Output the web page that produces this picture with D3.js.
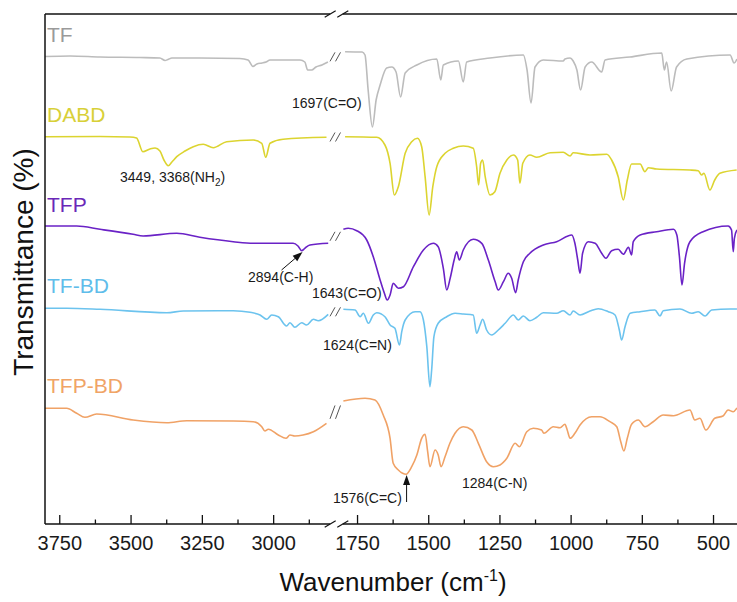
<!DOCTYPE html>
<html><head><meta charset="utf-8">
<script src="https://cdn.jsdelivr.net/npm/d3@7"></script>
<style>body{margin:0;background:#fff}svg{display:block}text{font-family:"Liberation Sans",Arial,sans-serif}</style>
</head><body><svg id="c" width="737" height="602"></svg>
<script>
// ---------- data (wavenumber cm-1, offset transmittance a.u.) ----------
const seriesNames = ["TF", "DABD", "TFP", "TF-BD", "TFP-BD"];
const majorTicksHigh = [3750, 3500, 3250, 3000];
const minorTicksHigh = [3625, 3375, 3125, 2875];
const majorTicksLow = [1750, 1500, 1250, 1000, 750, 500];
const minorTicksLow = [1625, 1375, 1125, 875, 625];

const TF = [[3800,46.75],[3712,46.8],[3607,46.7],[3467,46.65],[3397,46.6],[3379,46.35],[3369,46.45],[3355,46.6],[3257,46.6],[3117,46.55],[3088,46.4],[3071,45.75],[3057,46.0],[3039,46.1],[3025,46.2],[3011,46.4],[2906,46.4],[2889,46.2],[2879,45.4],[2865,45.4],[2850,45.7],[2829,45.9],[2808,46.2],
[1792,47.23],[1732,47.2],[1722,46.9],[1711,43.4],[1696,39.7],[1683,42.4],[1669,43.9],[1646,45.6],[1628,45.7],[1613,45.2],[1597,42.7],[1581,45.1],[1540,45.9],[1470,46.5],[1456,44.4],[1447,45.9],[1394,46.3],[1377,44.2],[1365,46.2],[1283,46.6],[1166,46.9],[1153,45.4],[1139,42.1],[1125,45.7],[1096,46.4],[1026,46.3],[1020,46.5],[1002,46.6],[991,46.3],[978,45.4],[965,43.4],[949,45.7],[926,46.2],[891,45.2],[879,46.4],[792,46.7],[680,47.1],[671,45.4],[663,46.2],[647,43.3],[628,45.7],[592,46.5],[440,46.9],[426,46.1],[416,46.5]];

const DABD = [[3800,38.73],[3607,38.75],[3502,38.7],[3479,38.6],[3457,37.23],[3432,37.5],[3414,37.6],[3397,37.3],[3383,36.4],[3368,35.83],[3355,36.2],[3338,36.73],[3309,37.3],[3280,37.73],[3245,37.97],[3210,37.63],[3163,38.23],[3070,38.4],[3040,38.07],[3026,36.67],[3011,38.07],[2965,38.47],[2813,38.67],
[1792,38.73],[1681,38.67],[1652,37.9],[1634,36.07],[1619,32.9],[1605,33.73],[1581,37.07],[1558,38.23],[1538,38.57],[1523,37.73],[1511,34.73],[1497,30.9],[1484,33.73],[1470,35.73],[1441,37.07],[1412,37.57],[1377,37.8],[1342,37.57],[1330,35.73],[1323,33.9],[1316,36.07],[1309,36.4],[1300,34.73],[1283,32.9],[1266,33.23],[1248,35.07],[1224,36.4],[1201,36.9],[1186,36.4],[1178,34.07],[1168,36.07],[1143,36.9],[1119,36.67],[1072,37.13],[1026,37.17],[1002,36.8],[991,37.13],[932,36.9],[873,36.97],[856,36.4],[833,34.73],[815,32.4],[801,34.4],[786,36.0],[756,36.0],[739,35.23],[727,35.63],[698,35.5],[581,35.4],[552,35.33],[540,34.9],[532,35.07],[511,33.4],[494,34.4],[476,35.07],[417,35.4]];

const TFP = [[3800,29.8],[3689,29.8],[3607,29.47],[3491,28.97],[3456,28.8],[3338,29.07],[3257,28.67],[3140,28.23],[3070,28.07],[2930,28.07],[2913,27.8],[2900,27.33],[2889,27.57],[2871,27.9],[2807,28.07],
[1798,29.47],[1781,29.57],[1751,29.33],[1716,28.4],[1693,26.73],[1669,24.4],[1654,23.07],[1644,22.4],[1634,22.9],[1623,24.07],[1605,23.57],[1587,23.73],[1552,25.73],[1517,27.4],[1482,28.07],[1465,27.73],[1447,25.57],[1435,23.4],[1423,24.57],[1409,26.4],[1400,27.23],[1391,26.4],[1377,27.4],[1342,28.47],[1312,28.07],[1289,26.4],[1265,24.23],[1254,23.4],[1236,24.23],[1219,25.07],[1207,24.57],[1193,23.13],[1184,24.4],[1166,26.23],[1143,27.07],[1096,27.9],[1049,28.23],[996,28.9],[985,28.07],[975,26.4],[967,25.07],[958,27.07],[938,28.23],[914,28.07],[891,27.07],[876,26.57],[856,27.33],[833,27.47],[815,26.97],[797,27.67],[786,26.9],[780,28.23],[756,28.9],[698,29.23],[639,29.47],[627,28.9],[618,26.73],[609,23.9],[600,26.07],[581,28.23],[535,29.23],[447,29.8],[435,29.4],[429,27.23],[425,28.57],[416,29.4]];

const TF_BD = [[3800,21.57],[3724,21.57],[3607,21.47],[3373,21.13],[3315,21.3],[3140,21.33],[3081,21.17],[3046,20.9],[3023,20.47],[3005,20.9],[2982,20.73],[2953,19.8],[2941,20.13],[2924,19.67],[2900,20.13],[2883,19.9],[2859,20.47],[2842,20.33],[2807,20.97],
[1798,21.47],[1757,21.4],[1739,20.73],[1728,21.07],[1710,20.07],[1693,20.9],[1681,21.13],[1652,20.73],[1634,19.9],[1617,19.57],[1601,17.9],[1593,19.23],[1581,20.4],[1546,21.23],[1529,21.23],[1517,20.4],[1505,17.73],[1494,13.73],[1488,15.4],[1480,18.73],[1465,20.07],[1435,20.73],[1406,21.07],[1377,21.0],[1342,20.9],[1330,19.07],[1318,19.9],[1309,20.47],[1295,19.4],[1277,18.9],[1254,19.4],[1230,20.07],[1201,20.9],[1184,20.4],[1166,20.8],[1143,20.33],[1119,20.67],[1096,21.13],[1049,21.07],[1026,21.33],[1002,20.9],[991,21.3],[967,20.9],[932,21.3],[903,21.53],[868,21.23],[844,20.9],[829,19.4],[821,18.4],[809,19.73],[791,21.07],[756,21.23],[704,21.4],[686,20.8],[675,21.33],[616,21.5],[575,21.07],[552,21.23],[528,20.8],[505,21.4],[440,21.5],[416,21.5]];

const TFP_BD = [[3800,11.57],[3724,11.57],[3689,11.07],[3660,10.67],[3619,11.0],[3491,10.4],[3373,10.13],[3303,10.33],[3140,10.3],[3070,10.23],[3040,9.73],[3029,9.3],[3017,9.47],[2982,8.9],[2955,8.57],[2941,8.9],[2924,8.8],[2895,8.9],[2859,9.23],[2813,10.07],
[1798,12.3],[1722,12.57],[1687,12.4],[1658,10.9],[1634,8.57],[1623,6.07],[1605,5.4],[1590,5.07],[1578,4.97],[1558,5.73],[1540,6.9],[1523,8.57],[1511,8.97],[1502,7.23],[1494,5.73],[1476,7.4],[1465,6.9],[1455,5.73],[1441,6.73],[1424,8.07],[1406,9.07],[1377,9.73],[1347,9.4],[1324,8.07],[1295,6.23],[1271,5.73],[1248,5.9],[1224,6.57],[1195,8.07],[1180,7.73],[1154,9.23],[1131,9.57],[1102,9.4],[1094,9.07],[1061,9.73],[1037,9.63],[1020,9.97],[1012,9.4],[1002,8.57],[985,9.07],[967,9.9],[926,10.73],[897,10.73],[862,10.23],[838,9.73],[824,8.23],[813,7.3],[801,8.57],[786,9.97],[762,10.4],[739,9.73],[710,10.23],[675,10.9],[639,10.83],[581,11.4],[564,10.4],[546,10.57],[525,9.4],[494,10.57],[465,10.8],[447,11.4],[429,11.23],[416,11.6]];

const seriesData = [TF, DABD, TFP, TF_BD, TFP_BD];
const lineColors = ["#bcbcbc", "#dcd430", "#6a22c6", "#6cc3ee", "#f0a266"];
const labelColors = ["#9a9a9a", "#d8d038", "#6a28b8", "#5fbdea", "#f0a466"];

const annotations = [
  {t: "1697(C=O)", x: 292, y: 108},
  {t: "2894(C-H)", x: 248, y: 282},
  {t: "1643(C=O)", x: 312, y: 298},
  {t: "1624(C=N)", x: 323, y: 350},
  {t: "1576(C=C)", x: 333, y: 503},
  {t: "1284(C-N)", x: 462, y: 488}
];

// ---------- layout ----------
const svg = d3.select("#c");
const plotLeft = 45, plotTop = 14, plotBottom = 524, plotRight = 737;
const xHigh = d3.scaleLinear().domain([3800, 2800]).range([45, 330.2]);
const xLow = d3.scaleLinear().domain([1800, 400]).range([342.8, 741.5]);
const y = d3.scaleLinear().domain([0, 51]).range([plotBottom, plotTop]);
const xAny = w => (w > 2300 ? xHigh(w) : xLow(w));

// curves
const line = d3.line().x(d => xAny(d[0])).y(d => y(d[1])).curve(d3.curveMonotoneX);
seriesData.forEach((data, i) => {
  const hi = data.filter(d => d[0] > 2300);
  const lo = data.filter(d => d[0] < 2300);
  [hi, lo].forEach(seg => {
    svg.append("path").attr("d", line(seg)).attr("fill", "none")
      .attr("stroke", lineColors[i]).attr("stroke-width", 1.6).attr("stroke-linejoin", "round");
  });
  // break marks "//" on the curve
  const yA = y(hi[hi.length - 1][1]), yB = y(lo[0][1]);
  const cy = (yA + yB) / 2;
  const h = Math.max(9, Math.min(14, Math.abs(yA - yB) * 0.6));
  [332.5, 338].forEach(cx => {
    svg.append("line").attr("x1", cx - 2.5).attr("y1", cy + h / 2).attr("x2", cx + 2.5).attr("y2", cy - h / 2)
      .attr("stroke", "#555").attr("stroke-width", 1);
  });
  // series label
  const yLabel = [42, 122, 212, 293, 393][i];
  svg.append("text").attr("x", 47).attr("y", yLabel).attr("font-size", 21)
    .attr("fill", labelColors[i]).text(seriesNames[i]);
});

// frame
const frame = svg.append("g").attr("stroke", "#111").attr("stroke-width", 1.5).attr("fill", "none");
frame.append("line").attr("x1", plotLeft).attr("y1", plotTop).attr("x2", plotLeft).attr("y2", plotBottom);
[plotTop, plotBottom].forEach(yy => {
  frame.append("line").attr("x1", plotLeft).attr("y1", yy).attr("x2", xHigh.range()[1]).attr("y2", yy);
  frame.append("line").attr("x1", xLow.range()[0]).attr("y1", yy).attr("x2", plotRight).attr("y2", yy);
  [xHigh.range()[1], xLow.range()[0]].forEach(cx => {
    frame.append("line").attr("x1", cx - 5.5).attr("y1", yy + 3.2).attr("x2", cx + 5.5).attr("y2", yy - 3.2)
      .attr("stroke-width", 1.2);
  });
});

// axes
function drawAxis(scale, major, minor) {
  const g = svg.append("g").attr("transform", `translate(0,${plotBottom})`);
  g.call(d3.axisBottom(scale).tickValues(major).tickFormat(d3.format("d"))
    .tickSizeInner(-9).tickSizeOuter(0).tickPadding(12));
  g.select(".domain").remove();
  g.selectAll(".tick line").attr("stroke", "#111").attr("stroke-width", 1.3);
  g.selectAll(".tick text").attr("font-size", 20).attr("fill", "#1a1a1a")
    .attr("font-family", '"Liberation Sans",Arial,sans-serif');
  const m = svg.append("g").attr("transform", `translate(0,${plotBottom})`);
  m.call(d3.axisBottom(scale).tickValues(minor).tickSizeInner(-4.5).tickSizeOuter(0).tickFormat(""));
  m.select(".domain").remove();
  m.selectAll(".tick line").attr("stroke", "#111").attr("stroke-width", 1.3);
}
drawAxis(xHigh, majorTicksHigh, minorTicksHigh);
drawAxis(xLow, majorTicksLow, minorTicksLow);

// axis titles
const xt = svg.append("text").attr("x", 393).attr("y", 591).attr("text-anchor", "middle")
  .attr("font-size", 26).attr("fill", "#111");
xt.append("tspan").text("Wavenumber (cm");
xt.append("tspan").attr("font-size", 16).attr("dy", -10).text("-1");
xt.append("tspan").attr("dy", 10).text(")");

svg.append("text").attr("transform", "translate(33,262) rotate(-90)").attr("text-anchor", "middle")
  .attr("font-size", 28).attr("fill", "#111").text("Transmittance (%)");

// annotations
annotations.forEach(a => {
  svg.append("text").attr("x", a.x).attr("y", a.y).attr("font-size", 14).attr("fill", "#1a1a1a").text(a.t);
});
const nh = svg.append("text").attr("x", 120).attr("y", 182).attr("font-size", 14).attr("fill", "#1a1a1a");
nh.append("tspan").text("3449, 3368(NH");
nh.append("tspan").attr("font-size", 10).attr("dy", 4).text("2");
nh.append("tspan").attr("dy", -4).text(")");

// arrows
const ar = svg.append("g").attr("fill", "#111").attr("stroke", "#111");
// 2894 arrow (diagonal)
const tip1 = [xHigh(2897), y(27.3) + 1];
const tail1 = [tip1[0] - 21, tip1[1] + 18];
ar.append("line").attr("x1", tail1[0]).attr("y1", tail1[1]).attr("x2", tip1[0] - 4).attr("y2", tip1[1] + 3.5).attr("stroke-width", 1);
{
  const ang = Math.atan2(tip1[1] - tail1[1], tip1[0] - tail1[0]);
  const L = 10, W = 3.5;
  const bx = tip1[0] - L * Math.cos(ang), by = tip1[1] - L * Math.sin(ang);
  const px = -Math.sin(ang) * W, py = Math.cos(ang) * W;
  ar.append("path").attr("stroke", "none")
    .attr("d", `M${tip1[0]},${tip1[1]}L${bx + px},${by + py}L${bx - px},${by - py}Z`);
}
// 1576 arrow (vertical)
const ax2 = xLow(1576);
ar.append("line").attr("x1", ax2).attr("y1", 502).attr("x2", ax2).attr("y2", 483).attr("stroke-width", 1);
ar.append("path").attr("stroke", "none").attr("d", `M${ax2},475L${ax2 + 3.5},485L${ax2 - 3.5},485Z`);
</script>
</body></html>
